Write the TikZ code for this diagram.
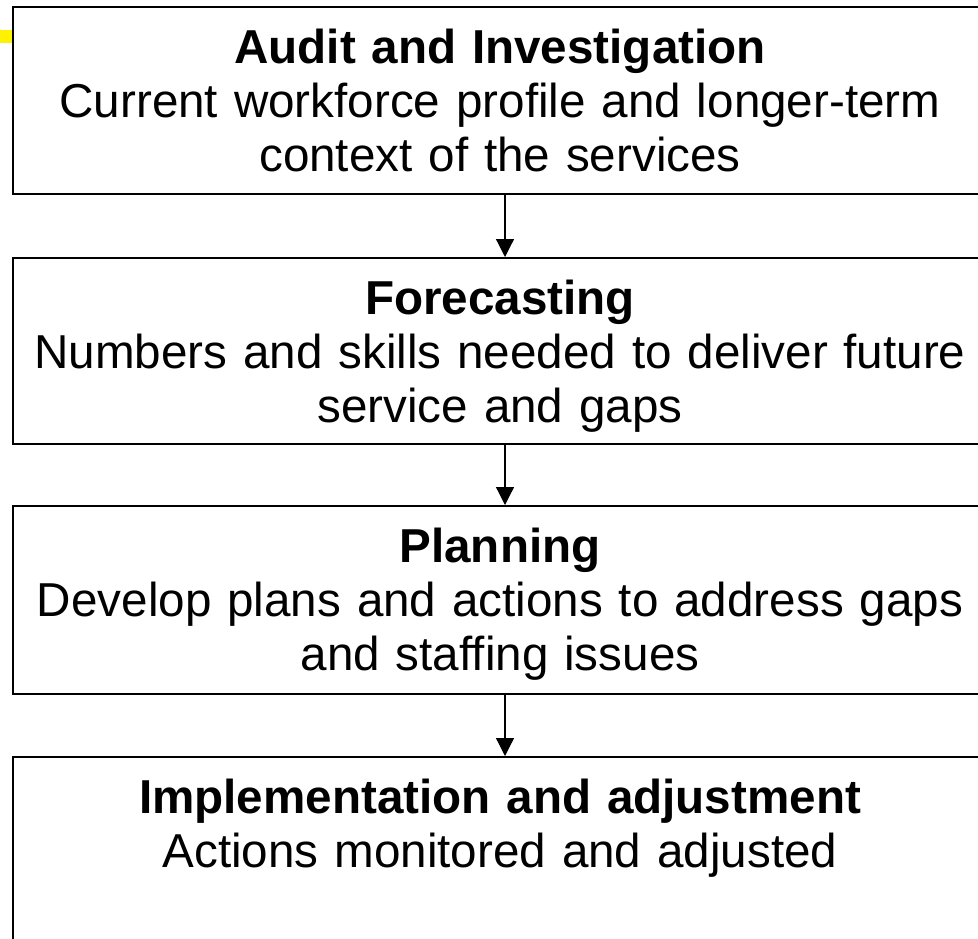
\documentclass[tikz,border=0pt]{standalone}
\usepackage{fontspec}
\setmainfont{Liberation Sans}
\usetikzlibrary{arrows.meta}

\begin{document}
\begin{tikzpicture}[x=0.5pt,y=-0.5pt,
  stagebox/.style={draw=black, line width=1.2pt, minimum width=492pt,
    minimum height=#1, inner sep=0pt, anchor=north},
  stagetext/.style={text width=560pt, align=center, inner sep=0pt,
    anchor=base, font=\fontsize{23.8}{27}\selectfont},
  flow/.style={line width=0.6pt, -{Triangle[width=9pt,length=9pt]}}
]
  \useasboundingbox (0,0) rectangle (978,938);
  \clip (0,0) rectangle (978,938);
  \fill[white] (0,0) rectangle (978,938);

  % small yellow marker at the left edge
  \fill[yellow] (0,30) rectangle (13,43) coordinate (marker);

  % the four stages
  \node[stagebox=93.5pt] (audit) at (505,6) {};
  \node[stagebox=93pt]   (fore)  at (505,257) {};
  \node[stagebox=94pt]   (plan)  at (505,505) {};
  \node[stagebox=100pt]  (impl)  at (505,756) {};

  \node[stagetext] (auditT) at (500,63)
    {\textbf{Audit and Investigation}\\Current workforce profile and longer-term\\context of the services};
  \node[stagetext] (foreT) at (500,314)
    {\textbf{Forecasting}\\Numbers and skills needed to deliver future\\service and gaps};
  \node[stagetext] (planT) at (500,562)
    {\textbf{Planning}\\Develop plans and actions to address gaps\\and staffing issues};
  \node[stagetext] (implT) at (500,813)
    {\textbf{Implementation and adjustment}\\Actions monitored and adjusted};

  % connectors between the stages
  \draw[flow] (audit.south) -- (fore.north);
  \draw[flow] (fore.south) -- (plan.north);
  \draw[flow] (plan.south) -- (impl.north);
\end{tikzpicture}
\end{document}
